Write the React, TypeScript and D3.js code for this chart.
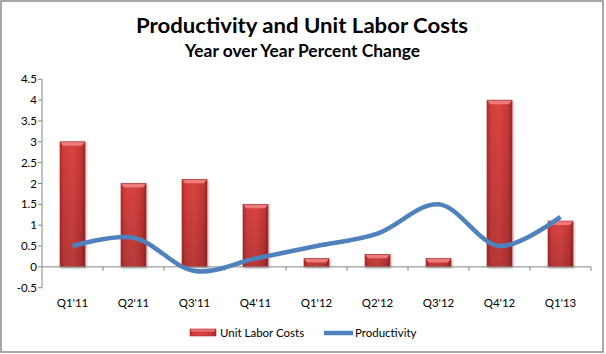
import React from "react";
import * as d3 from "d3";

const categories = ["Q1'11", "Q2'11", "Q3'11", "Q4'11", "Q1'12", "Q2'12", "Q3'12", "Q4'12", "Q1'13"];
const unitLaborCosts = [3.0, 2.0, 2.1, 1.5, 0.2, 0.3, 0.2, 4.0, 1.1];
const productivity = [0.5, 0.7, -0.1, 0.2, 0.5, 0.8, 1.5, 0.5, 1.2];
const yTicks = [-0.5, 0, 0.5, 1, 1.5, 2, 2.5, 3, 3.5, 4, 4.5];

const W = 606;
const H = 354;
const M = { left: 42, right: 591, top: 79.3, bottom: 287.7 };
const FONT = "Lato, 'Open Sans', sans-serif";

export default function App() {
  const x = d3.scaleBand<string>().domain(categories).range([M.left, M.right]).paddingInner(0).paddingOuter(0);
  const y = d3.scaleLinear().domain([-0.5, 4.5]).range([M.bottom, M.top]);
  const barW = 25;
  const cx = (c: string) => (x(c) as number) + x.bandwidth() / 2;

  const line = d3
    .line<number>()
    .x((_, i) => cx(categories[i]))
    .y((d) => y(d))
    .curve(d3.curveCatmullRom.alpha(0.5));

  return (
    <svg width={W} height={H} style={{ position: "absolute", left: 0, top: 0 }} xmlns="http://www.w3.org/2000/svg">
      <defs>
        <linearGradient id="barGrad" x1="0" y1="0" x2="1" y2="0">
          <stop offset="0" stopColor="#B02A2A" />
          <stop offset="0.15" stopColor="#D23E3E" />
          <stop offset="0.5" stopColor="#D94444" />
          <stop offset="0.85" stopColor="#C63636" />
          <stop offset="1" stopColor="#9E2424" />
        </linearGradient>
        <linearGradient id="barV" x1="0" y1="0" x2="0" y2="1">
          <stop offset="0" stopColor="#000" stopOpacity="0" />
          <stop offset="1" stopColor="#000" stopOpacity="0.15" />
        </linearGradient>
        <linearGradient id="fadeGrid" x1="0" y1="0" x2="1" y2="0">
          <stop offset="0" stopColor="#B9C8E4" />
          <stop offset="0.9" stopColor="#B9C8E4" />
          <stop offset="1" stopColor="#DCE4F2" />
        </linearGradient>
        <filter id="shadow" x="-30%" y="-10%" width="160%" height="130%">
          <feGaussianBlur in="SourceAlpha" stdDeviation="1.2" />
          <feOffset dx="0.5" dy="1" result="o" />
          <feComponentTransfer>
            <feFuncA type="linear" slope="0.35" />
          </feComponentTransfer>
          <feMerge>
            <feMergeNode />
            <feMergeNode in="SourceGraphic" />
          </feMerge>
        </filter>
      </defs>
      <rect x={0} y={0} width={W} height={H} fill="#fff" />
      <rect x={1} y={1} width={602} height={351} fill="#fff" stroke="#8C8C8C" strokeWidth={1.5} />

      <text x={302} y={32.5} textAnchor="middle" fontFamily={FONT} fontWeight={700} fontSize={21.5} fill="#000" textLength={332} lengthAdjust="spacingAndGlyphs">
        Productivity and Unit Labor Costs
      </text>
      <text x={302.5} y={57.3} textAnchor="middle" fontFamily={FONT} fontWeight={700} fontSize={16.5} fill="#000" textLength={235} lengthAdjust="spacingAndGlyphs">
        Year over Year Percent Change
      </text>

      {yTicks.map((t) => (
        <g key={t}>
          {t !== 0 && (
            <line x1={M.left} x2={M.right} y1={y(t)} y2={y(t)} stroke="url(#fadeGrid)" strokeWidth={1} />
          )}
          <line x1={M.left - 4} x2={M.left} y1={y(t)} y2={y(t)} stroke="#868686" strokeWidth={1} />
          <text x={M.left - 5} y={y(t) + 4} textAnchor="end" fontFamily={FONT} fontSize={11.5} fill="#000">
            {t}
          </text>
        </g>
      ))}
      <line x1={M.left} x2={M.left} y1={M.top} y2={M.bottom} stroke="#868686" strokeWidth={1} />

      {categories.map((c, i) => {
        const v = unitLaborCosts[i];
        const bx = cx(c) - barW / 2;
        const top = y(Math.max(0, v));
        const h = Math.abs(y(0) - y(v));
        const bev = Math.min(4, h / 2);
        return (
          <g key={c} filter="url(#shadow)">
            <rect x={bx} y={top} width={barW} height={h} fill="url(#barGrad)" />
            <rect x={bx} y={top} width={barW} height={h} fill="url(#barV)" />
            <polygon
              points={`${bx},${top} ${bx + barW},${top} ${bx + barW - 3},${top + bev} ${bx + 3},${top + bev}`}
              fill="#EC7B7B"
            />
            <rect x={bx} y={top} width={barW} height={h} fill="none" stroke="#A83030" strokeWidth={0.6} />
          </g>
        );
      })}

      <line x1={M.left} x2={M.right} y1={y(0)} y2={y(0)} stroke="#868686" strokeWidth={1} />
      {categories.map((c) => (
        <line
          key={"tk" + c}
          x1={(x(c) as number) + x.bandwidth()}
          x2={(x(c) as number) + x.bandwidth()}
          y1={y(0)}
          y2={y(0) + 4}
          stroke="#868686"
        />
      ))}

      <path d={line(productivity) || ""} fill="none" stroke="#4F81BD" strokeWidth={4.5} strokeLinecap="butt" />

      {categories.map((c) => (
        <text key={"xl" + c} x={cx(c)} y={307} textAnchor="middle" fontFamily={FONT} fontSize={11.5} fill="#000">
          {c}
        </text>
      ))}

      <g>
        <rect x={190} y={329} width={26} height={7} fill="url(#barGrad)" stroke="#A83030" strokeWidth={0.6} />
        <rect x={191} y={329.5} width={24} height={2} fill="#EC7B7B" />
        <text x={220} y={337} fontFamily={FONT} fontSize={11.5} fill="#000">
          Unit Labor Costs
        </text>
        <line x1={324} x2={353} y1={333} y2={333} stroke="#4F81BD" strokeWidth={4.5} />
        <text x={355} y={337} fontFamily={FONT} fontSize={11.5} fill="#000">
          Productivity
        </text>
      </g>
    </svg>
  );
}
